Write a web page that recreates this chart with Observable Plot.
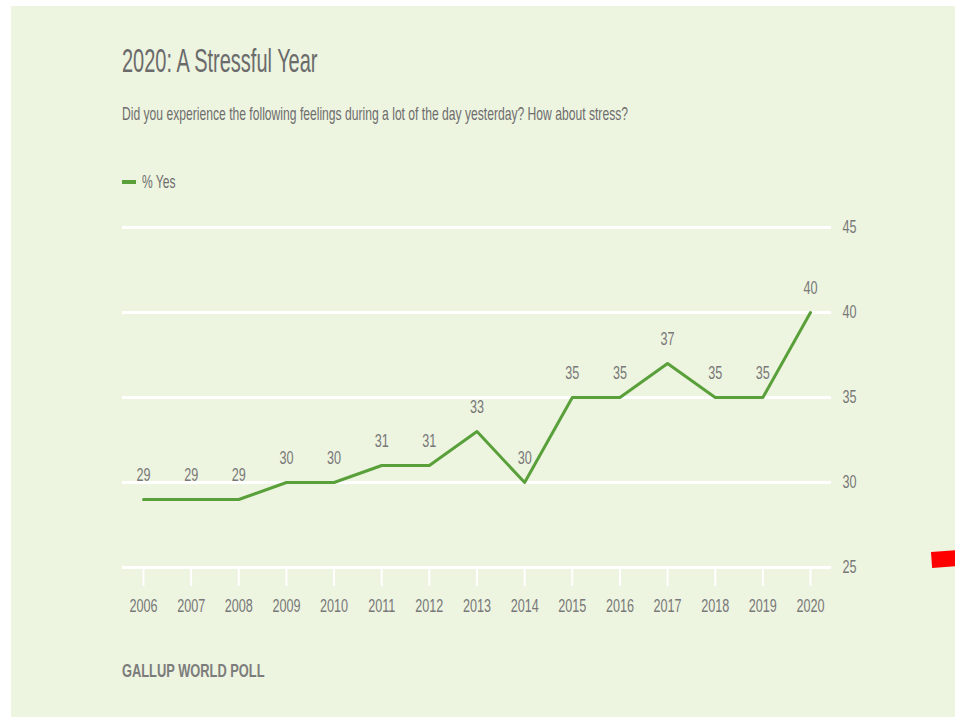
<!DOCTYPE html>
<html>
<head>
<meta charset="utf-8">
<script src="https://cdn.jsdelivr.net/npm/d3@7"></script>
<script src="https://cdn.jsdelivr.net/npm/@observablehq/plot@0.6"></script>
<style>
  html, body { margin: 0; padding: 0; background: #ffffff; }
  body { width: 955px; height: 718px; position: relative; overflow: hidden; font-family: "Liberation Sans", Arial, sans-serif; }
  #panel { position: absolute; left: 11px; top: 6px; width: 944px; height: 711px; background: #EDF4E0; }
  .txt { position: absolute; white-space: nowrap; line-height: 1; transform-origin: 0 0; }
  #chart { position: absolute; left: 0; top: 0; }
  #redmark { position: absolute; left: 931px; top: 552px; width: 34px; height: 16px; background: #ff0000; transform: rotate(-4deg); transform-origin: 0 0; }
</style>
</head>
<body>
<div id="panel"></div>
<div id="title" class="txt" style="font-size:34px;color:#6b6b6b;"></div>
<div id="subtitle" class="txt" style="font-size:19px;color:#6d6d6d;"></div>
<div id="legendSwatch" style="position:absolute;left:121.5px;top:180px;width:14.5px;height:3.5px;background:#5AA03A;"></div>
<div id="legendText" class="txt" style="font-size:19px;color:#6d6d6d;"></div>
<div id="caption" class="txt" style="font-size:19px;font-weight:bold;color:#7c7c7c;"></div>
<div id="chart"></div>
<div id="redmark"></div>
<script>
// ---- data ----
const titleText = "2020: A Stressful Year";
const subtitleText = "Did you experience the following feelings during a lot of the day yesterday? How about stress?";
const legendLabel = "% Yes";
const captionText = "GALLUP WORLD POLL";
const years = [2006, 2007, 2008, 2009, 2010, 2011, 2012, 2013, 2014, 2015, 2016, 2017, 2018, 2019, 2020];
const yesValues = [29, 29, 29, 30, 30, 31, 31, 33, 30, 35, 35, 37, 35, 35, 40];
const yTicks = [25, 30, 35, 40, 45];

const data = years.map((year, i) => ({year, value: yesValues[i]}));

// ---- HTML texts (condensed via horizontal scaling) ----
function placeText(id, text, left, baseline, fontSize, targetWidth) {
  const el = document.getElementById(id);
  el.textContent = text;
  el.style.left = left + "px";
  el.style.top = (baseline - 0.8465 * fontSize) + "px";
  const w = el.getBoundingClientRect().width;
  el.style.transform = `scaleX(${targetWidth / w})`;
}
placeText("title", titleText, 121.5, 72, 34, 195.5);
placeText("subtitle", subtitleText, 121.5, 120.5, 19, 506);
placeText("legendText", legendLabel, 141.5, 188, 19, 33.5);
placeText("caption", captionText, 121.5, 677, 19, 142.5);

// ---- chart ----
const green = "#5AA03A";
const grey = "#787878";
const plot = Plot.plot({
  width: 955,
  height: 640,
  marginLeft: 122,
  marginRight: 124,
  marginTop: 227,
  marginBottom: 73,
  style: {background: "transparent", fontFamily: "'Liberation Sans', Arial, sans-serif", fontSize: "18px", color: grey, overflow: "visible"},
  x: {type: "linear", domain: [years[0], years[years.length - 1]], insetLeft: 21, insetRight: 21},
  y: {domain: [yTicks[0], yTicks[yTicks.length - 1]]},
  marks: [
    Plot.ruleY(yTicks, {stroke: "#ffffff", strokeWidth: 3}),
    Plot.axisY({anchor: "right", ticks: yTicks, tickSize: 0, tickPadding: 11, fill: grey, label: null}),
    Plot.axisX({anchor: "bottom", ticks: years, tickFormat: d => String(d), tickSize: 19, tickPadding: 13, stroke: "#ffffff", strokeWidth: 2, strokeOpacity: 1, fill: grey, label: null}),
    Plot.line(data, {x: "year", y: "value", stroke: green, strokeWidth: 3}),
    Plot.text(data, {x: "year", y: "value", text: d => String(d.value), dy: -24, fill: grey})
  ]
});
document.getElementById("chart").appendChild(plot);

// condense the SVG text like the reference's narrow typeface
plot.querySelectorAll("text").forEach(t => {
  const w = t.getComputedTextLength();
  if (w > 0) {
    t.setAttribute("textLength", (w * 0.70).toFixed(2));
    t.setAttribute("lengthAdjust", "spacingAndGlyphs");
  }
});
</script>
</body>
</html>
